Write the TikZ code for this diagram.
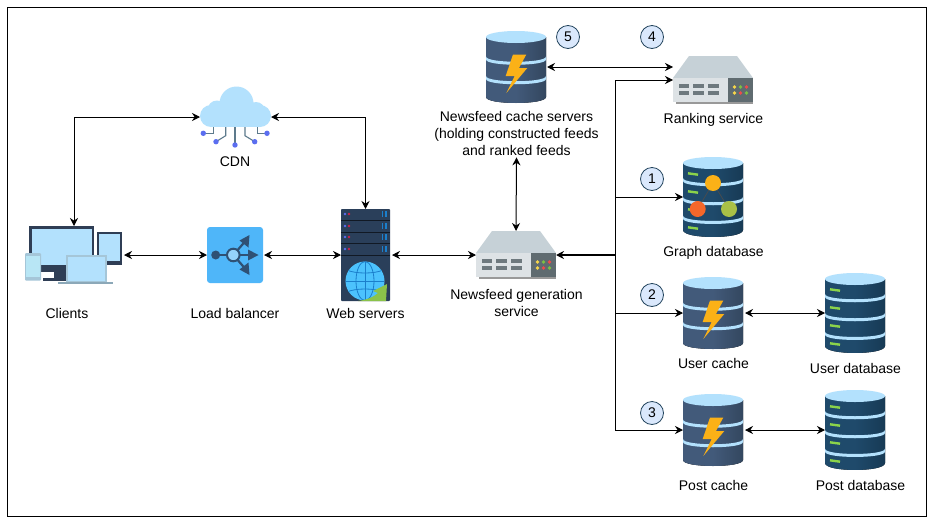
\documentclass[tikz,border=0pt]{standalone}
\usepackage{fontspec}
\setmainfont{Liberation Sans}
\usetikzlibrary{arrows.meta}
\definecolor{sky}{HTML}{B3E1FD}
\definecolor{dbdark}{HTML}{1F4A6B}
\definecolor{dbdarkb}{HTML}{173A55}
\definecolor{cachedark}{HTML}{425A7A}
\definecolor{cachedarkb}{HTML}{33475F}
\definecolor{boltc}{HTML}{FBB117}
\definecolor{dashgreen}{HTML}{8BD34A}
\definecolor{srvtop}{HTML}{C6D1D7}
\definecolor{srvfront}{HTML}{DDE2E5}
\definecolor{srvpanel}{HTML}{5F6B70}
\definecolor{srvslit}{HTML}{6E797E}
\definecolor{rackc}{HTML}{2A3F5A}
\definecolor{lbc}{HTML}{4FB6F9}
\definecolor{lbi}{HTML}{2F5175}
\definecolor{monc}{HTML}{2F3E55}
\definecolor{phonec}{HTML}{A5C6D8}
\definecolor{phonescr}{HTML}{B8E6F5}
\definecolor{netline}{HTML}{5D7A8C}
\definecolor{netdot}{HTML}{5B6EF0}
\definecolor{numfill}{HTML}{DAE8FC}
\definecolor{numline}{HTML}{23445D}
\definecolor{globec}{HTML}{4CC2FD}
\definecolor{globel}{HTML}{1B7FCC}
\definecolor{arrowg}{HTML}{8BC34A}
\definecolor{dotr}{HTML}{F5672A}
\definecolor{dotg}{HTML}{A9C046}
\definecolor{ledy}{HTML}{F7D54A}
\definecolor{ledg}{HTML}{7CC142}
\definecolor{ledr}{HTML}{EE4B4B}
\newcommand{\cylbody}[5]{% top, bottom side, sag, colour left, colour right
  \fill[left color=#4,right color=#5,middle color=#4] (-30,#1) -- (-30,#2) .. controls (-30,#2+#3) and (30,#2+#3) .. (30,#2) -- (30,#1) -- cycle;}
\newcommand{\cylband}[1]{%
  \fill[sky] (-30,#1) .. controls (-30,#1+7) and (30,#1+7) .. (30,#1) -- (30,#1+3) .. controls (30,#1+10) and (-30,#1+10) .. (-30,#1+3) -- cycle;}
\tikzset{
  x=1pt,y=-1pt,
  lbl/.style={align=center,inner sep=0pt,font=\fontsize{14}{17}\selectfont},
  slot/.style={inner sep=0pt,outer sep=0pt,minimum width=#1},
  num/.style={circle,draw=numline,fill=numfill,line width=0.8pt,minimum size=23pt,inner sep=0pt,font=\fontsize{14}{16}\selectfont},
  conn/.style={line width=1pt,draw=black},
  dbl/.style={conn,{Stealth[length=8pt,width=8pt]}-{Stealth[length=8pt,width=8pt]}},
  one/.style={conn,-{Stealth[length=8pt,width=8pt]}},
  storedb/.pic={
    \cylbody{-34}{33}{9.3}{dbdark}{dbdarkb}
    \fill[sky] (0,-34) ellipse [x radius=30pt,y radius=6pt];
    \cylband{-19}\cylband{0}\cylband{18.7}
    \foreach \yy in {-23,-5,13,31}{\draw[dashgreen,line width=2.4pt] (-25,\yy-.7) -- (-15,\yy+.7);}
  },
  cachedb/.pic={
    \cylbody{-30}{30}{8}{cachedark}{cachedarkb}
    \fill[sky] (0,-30) ellipse [x radius=30pt,y radius=6pt];
    \cylband{-10.5}\cylband{9}
    \fill[boltc] (-3,-12.5) -- (10.3,-12.5) -- (3,1) -- (11.3,1) -- (-9.7,26) -- (-1.3,9) -- (-10.3,9) -- cycle;
  },
  srv/.pic={
    \fill[srvtop] (-24,-24) -- (24,-24) -- (40,-2) -- (-40,-2) -- cycle;
    \fill[srvfront] (-40,-2) rectangle (15,22);
    \fill[srvpanel] (15,-2) rectangle (40,22);
    \fill[black!40] (-37,22) rectangle (40,23.5);
    \foreach \xx in {-34.5,-20,-5}{\foreach \yy in {4,11}{\fill[srvslit] (\xx,\yy) rectangle (\xx+10.5,\yy+4);}}
    \fill[ledy] (21.5,7) circle (1.8pt) (21.5,13) circle (1.8pt);
    \fill[ledg] (27.5,7) circle (1.8pt) (33.5,13) circle (1.8pt);
    \fill[ledr] (33.5,7) circle (1.8pt) (27.5,13) circle (1.8pt);
  }
}
\begin{document}
\begin{tikzpicture}
\useasboundingbox (0,0) rectangle (934,525);
\fill[white] (0,0) rectangle (934,525);
\draw[black,line width=1pt] (7,7) rectangle (926,516);

% placeholder nodes for the icons
\node[slot=97pt,minimum height=58pt] (clients) at (73.5,255) {};
\node[slot=56pt,minimum height=56pt] (lb) at (235,255) {};
\node[slot=49pt,minimum height=92pt] (rack) at (365.5,255) {};
\node[slot=80pt,minimum height=48pt] (gen) at (516,255) {};
\node[slot=71pt,minimum height=60pt] (cdn) at (235.5,117) {};
\node[slot=60pt,minimum height=72pt] (nfcache) at (516,67) {};
\node[slot=80pt,minimum height=48pt] (rank) at (713,80) {};
\node[slot=60pt,minimum height=80pt] (graph) at (713,197) {};
\node[slot=60pt,minimum height=72pt] (ucache) at (713,313) {};
\node[slot=60pt,minimum height=80pt] (udb) at (855,313) {};
\node[slot=60pt,minimum height=72pt] (pcache) at (713,430) {};
\node[slot=60pt,minimum height=80pt] (pdb) at (855,430) {};

% CDN cloud
\begin{scope}
  \draw[netline,line width=1.1pt] (213.3,127) -- (213.3,133.3) -- (203.3,133.3);
  \draw[netline,line width=1.1pt] (225.7,127) -- (225.7,135.7) -- (216,141.7);
  \draw[netline,line width=1.1pt] (235,127) -- (235,145);
  \draw[netline,line width=1.1pt] (245,127) -- (245,135.7) -- (254.7,141.7);
  \draw[netline,line width=1.1pt] (257.3,127) -- (257.3,133.3) -- (267,133.3);
  \fill[netdot] (203.3,133.3) circle (2.7pt) (216,141.7) circle (2.7pt) (235,145) circle (2.7pt) (254.7,141.7) circle (2.7pt) (267,133.3) circle (2.7pt);
  \fill[sky] (236.5,103.5) circle (17pt) (217,110) circle (9.5pt) (211,116) circle (11pt) (260,116) circle (11pt) (256,111) circle (9pt);
  \fill[sky] (211,104) rectangle (260,127);
\end{scope}

% Clients
\fill[monc] (29.3,226) rectangle (94.3,272);
\fill[sky] (31.5,228.5) rectangle (92,265);
\fill[monc] (54,272) rectangle (66,278);
\fill[monc] (43,278) rectangle (68,280.5);
\fill[monc] (96.7,231.7) rectangle (121.7,265);
\fill[sky] (98.5,233.5) rectangle (120,261);
\fill[phonec,rounded corners=1pt] (25,253) rectangle (41,280.7);
\fill[phonescr] (26.2,256) rectangle (39.8,277);
\fill[phonec] (65.7,255) rectangle (106.7,282);
\fill[sky] (67.5,257) rectangle (105,281);
\fill[phonec!85!black] (58,282) rectangle (113,284);

% Load balancer
\fill[lbc,rounded corners=3pt] (lb.south west) rectangle (lb.north east);
\draw[lbi,line width=2.2pt] (215.7,255) -- (233.3,255);
\fill[lbi] (215.7,255) circle (4.5pt);
\draw[lbi,line width=2.2pt] (233.3,255) -- (252,255);
\draw[lbi,line width=2.2pt] (233.3,255) -- (245.5,241);
\draw[lbi,line width=2.2pt] (233.3,255) -- (245.5,269);
\fill[lbi] (258.5,255) -- (248,249.5) -- (248,260.5) -- cycle;
\fill[lbi] (249.5,235) -- (239.5,240.5) -- (248.5,247.5) -- cycle;
\fill[lbi] (249.5,275) -- (239.5,269.5) -- (248.5,262.5) -- cycle;
\draw[lbi,fill=lbc!60!white,line width=2pt] (233.3,255) circle (6.3pt);

% Web server rack
\fill[rackc,rounded corners=0.8pt] (341,209) rectangle (390,301);
\foreach \yy in {220.5,232,243.3,255}{\fill[black!60!rackc] (341,\yy-.5) rectangle (390,\yy+.5);}
\foreach \yy in {214,226,237,249}{
  \fill[netdot] (345,\yy) circle (1.3pt);
  \fill[red!70!netdot] (349,\yy) circle (1.3pt);
  \fill[globel] (381.5,\yy-2.7) rectangle (383,\yy+2.7);
  \fill[globel] (385,\yy-2.7) rectangle (386.5,\yy+2.7);
}
\fill[globec] (365,281) circle (19.5pt);
\begin{scope}
  \clip (365,281) circle (19.5pt);
  \draw[globel,line width=0.8pt] (365,281) ellipse [x radius=9pt,y radius=19.5pt];
  \draw[globel,line width=0.8pt] (365,261) -- (365,301) (345,281) -- (385,281);
  \draw[globel,line width=0.8pt] (347,270) .. controls (355,274) and (375,274) .. (383,270);
  \draw[globel,line width=0.8pt] (347,292) .. controls (355,288) and (375,288) .. (383,292);
\end{scope}
\fill[arrowg] (387,284) -- (386,301) -- (358,301) .. controls (366,300) and (374,297) .. (378,293) -- (373,291) -- cycle;

% Servers and databases
\pic at (gen) {srv};
\pic at (rank) {srv};
\pic at (nfcache) {cachedb};
\pic at (ucache) {cachedb};
\pic at (pcache) {cachedb};
\pic at (graph) {storedb};
\pic at (udb) {storedb};
\pic at (pdb) {storedb};

% graph dots
\draw[black!70,line width=0.7pt] (713,183) -- (697.7,209) (713,183) -- (729,209);
\fill[boltc] (713,183) circle (8pt);
\fill[dotr] (697.7,209) circle (8pt);
\fill[dotg] (729,209) circle (8pt);

% Labels
\node[lbl] (lclients) at (67,313) {Clients};
\node[lbl] (llb) at (235,313) {Load balancer};
\node[lbl] (lweb) at (365.5,313) {Web servers};
\node[lbl] (lgen) at (516.5,302.5) {Newsfeed generation\\service};
\node[lbl] (lcdn) at (235,162) {CDN};
\node[lbl] (lcache) at (516.5,133) {Newsfeed cache servers\\(holding constructed feeds\\and ranked feeds};
\node[lbl] (lrank) at (713.5,119.5) {Ranking service};
\node[lbl] (lgraph) at (713.5,252.5) {Graph database};
\node[lbl] (lucache) at (713.5,363) {User cache};
\node[lbl] (ludb) at (855.5,368) {User database};
\node[lbl] (lpcache) at (713.5,485) {Post cache};
\node[lbl] (lpdb) at (860.5,485) {Post database};

% Numbers
\node[num] (n5) at (568,37) {5};
\node[num] (n4) at (652,37) {4};
\node[num] (n1) at (652,179) {1};
\node[num] (n2) at (652,295) {2};
\node[num] (n3) at (652,413) {3};

% Junctions
\coordinate (clienttop) at (74,226);
\coordinate (t4) at (615,80);
\coordinate (tg) at (615,255);
\coordinate (t3) at (615,430);

% Connectors
\draw[dbl] (clients.east) ++(2,0) -- (lb.west);
\draw[dbl] (lb.east) ++(1,0) -- (rack.west);
\draw[dbl] (rack.east) ++(2,0) -- (gen.west);
\draw[dbl] (cdn.west) -| (clienttop);
\draw[dbl] (cdn.east) -| (rack.north);
\draw[dbl] (lcache.south) ++(0,2) -- (gen.north);
\draw[dbl] (nfcache.east) ++(1,0) -- (nfcache.east -| rank.west);
\draw[conn] (t4) -- (t3);
\draw[one,line width=1.4pt] (tg) -- (gen.east);
\draw[one] (t4) -- (rank.west);
\draw[one] (tg |- graph.west) -- (graph.west);
\draw[one] (tg |- ucache.west) -- (ucache.west);
\draw[one] (t3) -- (pcache.west);
\draw[dbl] (ucache.east) ++(2,0) -- (udb.west);
\draw[dbl] (pcache.east) ++(2,0) -- (pdb.west);
\end{tikzpicture}
\end{document}
